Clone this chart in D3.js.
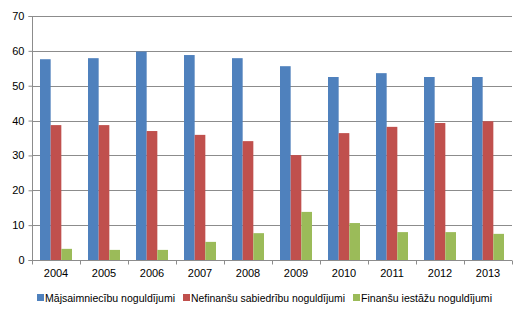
<!DOCTYPE html>
<html>
<head>
<meta charset="utf-8">
<script src="https://cdn.jsdelivr.net/npm/d3@7"></script>
<style>
  body { margin: 0; background: #fff; }
  text { font-family: "Liberation Sans", Arial, sans-serif; }
</style>
</head>
<body>
<div id="container"></div>
<script>
const years = ["2004", "2005", "2006", "2007", "2008", "2009", "2010", "2011", "2012", "2013"];
const households = [57.6, 57.9, 59.8, 58.8, 57.9, 55.6, 52.5, 53.6, 52.5, 52.5];
const nonFinancial = [38.7, 38.7, 37.0, 35.9, 34.1, 30.1, 36.4, 38.2, 39.3, 39.8];
const financial = [3.2, 2.9, 2.9, 5.2, 7.7, 13.8, 10.6, 8.0, 8.0, 7.5];
const seriesNames = ["Mājsaimniecību noguldījumi", "Nefinanšu sabiedrību noguldījumi", "Finanšu iestāžu noguldījumi"];
const colors = ["#4f81bd", "#c0504d", "#9bbb59"];
const yTicks = [0, 10, 20, 30, 40, 50, 60, 70];

const width = 528;
const height = 320;
const plotLeft = 32, plotRight = 512, plotTop = 16, plotBottom = 260;

const series = [households, nonFinancial, financial];

const svg = d3
  .select("#container")
  .append("svg")
  .attr("width", width)
  .attr("height", height);

const xScale = d3.scaleBand().domain(years).range([plotLeft, plotRight]).paddingInner(0).paddingOuter(0);
const inner = d3
  .scaleBand()
  .domain(d3.range(series.length))
  .range([8, xScale.bandwidth() - 8]);
const yScale = d3.scaleLinear().domain([0, 70]).range([plotBottom, plotTop]);

// gridlines
svg
  .append("g")
  .selectAll("line")
  .data(yTicks.filter((d) => d > 0))
  .enter()
  .append("line")
  .attr("x1", plotLeft)
  .attr("x2", plotRight)
  .attr("y1", (d) => Math.round(yScale(d)) + 0.5)
  .attr("y2", (d) => Math.round(yScale(d)) + 0.5)
  .attr("stroke", "#8c8c8c")
  .attr("stroke-width", 1);

// bars
series.forEach((vals, s) => {
  svg
    .append("g")
    .selectAll("rect")
    .data(vals)
    .enter()
    .append("rect")
    .attr("x", (d, i) => xScale(years[i]) + inner(s))
    .attr("y", (d) => yScale(d))
    .attr("width", inner.bandwidth())
    .attr("height", (d) => plotBottom - yScale(d))
    .attr("fill", colors[s]);
});

// y axis
const yAxis = d3.axisLeft(yScale).tickValues(yTicks).tickSize(4).tickPadding(4);
const yg = svg
  .append("g")
  .attr("transform", `translate(${plotLeft + 0.5}, 0)`)
  .call(yAxis);
yg.select(".domain").attr("stroke", "#8c8c8c").attr("d", `M-4,${plotTop + 0.5}H0V${plotBottom + 0.5}H-4`);
yg.selectAll(".tick line").attr("stroke", "#8c8c8c");
yg.selectAll(".tick text").attr("font-size", 11).attr("fill", "#000").attr("font-family", "Liberation Sans, Arial, sans-serif");

// x axis
const xAxis = d3.axisBottom(xScale).tickSize(0).tickPadding(9);
const xg = svg
  .append("g")
  .attr("transform", `translate(0, ${plotBottom + 0.5})`)
  .call(xAxis);
xg.select(".domain").attr("stroke", "#8c8c8c").attr("d", `M${plotLeft},0H${plotRight}`);
xg.selectAll(".tick text").attr("font-size", 11).attr("fill", "#000").attr("font-family", "Liberation Sans, Arial, sans-serif");
xg.selectAll(".sep")
  .data(d3.range(years.length + 1))
  .enter()
  .append("line")
  .attr("x1", (i) => Math.round(plotLeft + i * xScale.bandwidth()) + 0.5)
  .attr("x2", (i) => Math.round(plotLeft + i * xScale.bandwidth()) + 0.5)
  .attr("y1", 0)
  .attr("y2", 4)
  .attr("stroke", "#8c8c8c");

// legend
const legendItems = [
  { x: 37, w: 130 },
  { x: 183, w: 154 },
  { x: 353, w: 131 },
];
const legend = svg.append("g").attr("transform", "translate(0, 298)");
legend
  .selectAll("g")
  .data(seriesNames)
  .enter()
  .append("g")
  .attr("transform", (d, i) => `translate(${legendItems[i].x}, 0)`)
  .each(function (d, i) {
    const g = d3.select(this);
    g.append("rect").attr("x", 0).attr("y", -4).attr("width", 7).attr("height", 7).attr("fill", colors[i]);
    g.append("text")
      .attr("x", 8)
      .attr("y", 4)
      .attr("font-size", 11)
      .attr("textLength", legendItems[i].w)
      .attr("lengthAdjust", "spacingAndGlyphs")
      .text(d);
  });
</script>
</body>
</html>
